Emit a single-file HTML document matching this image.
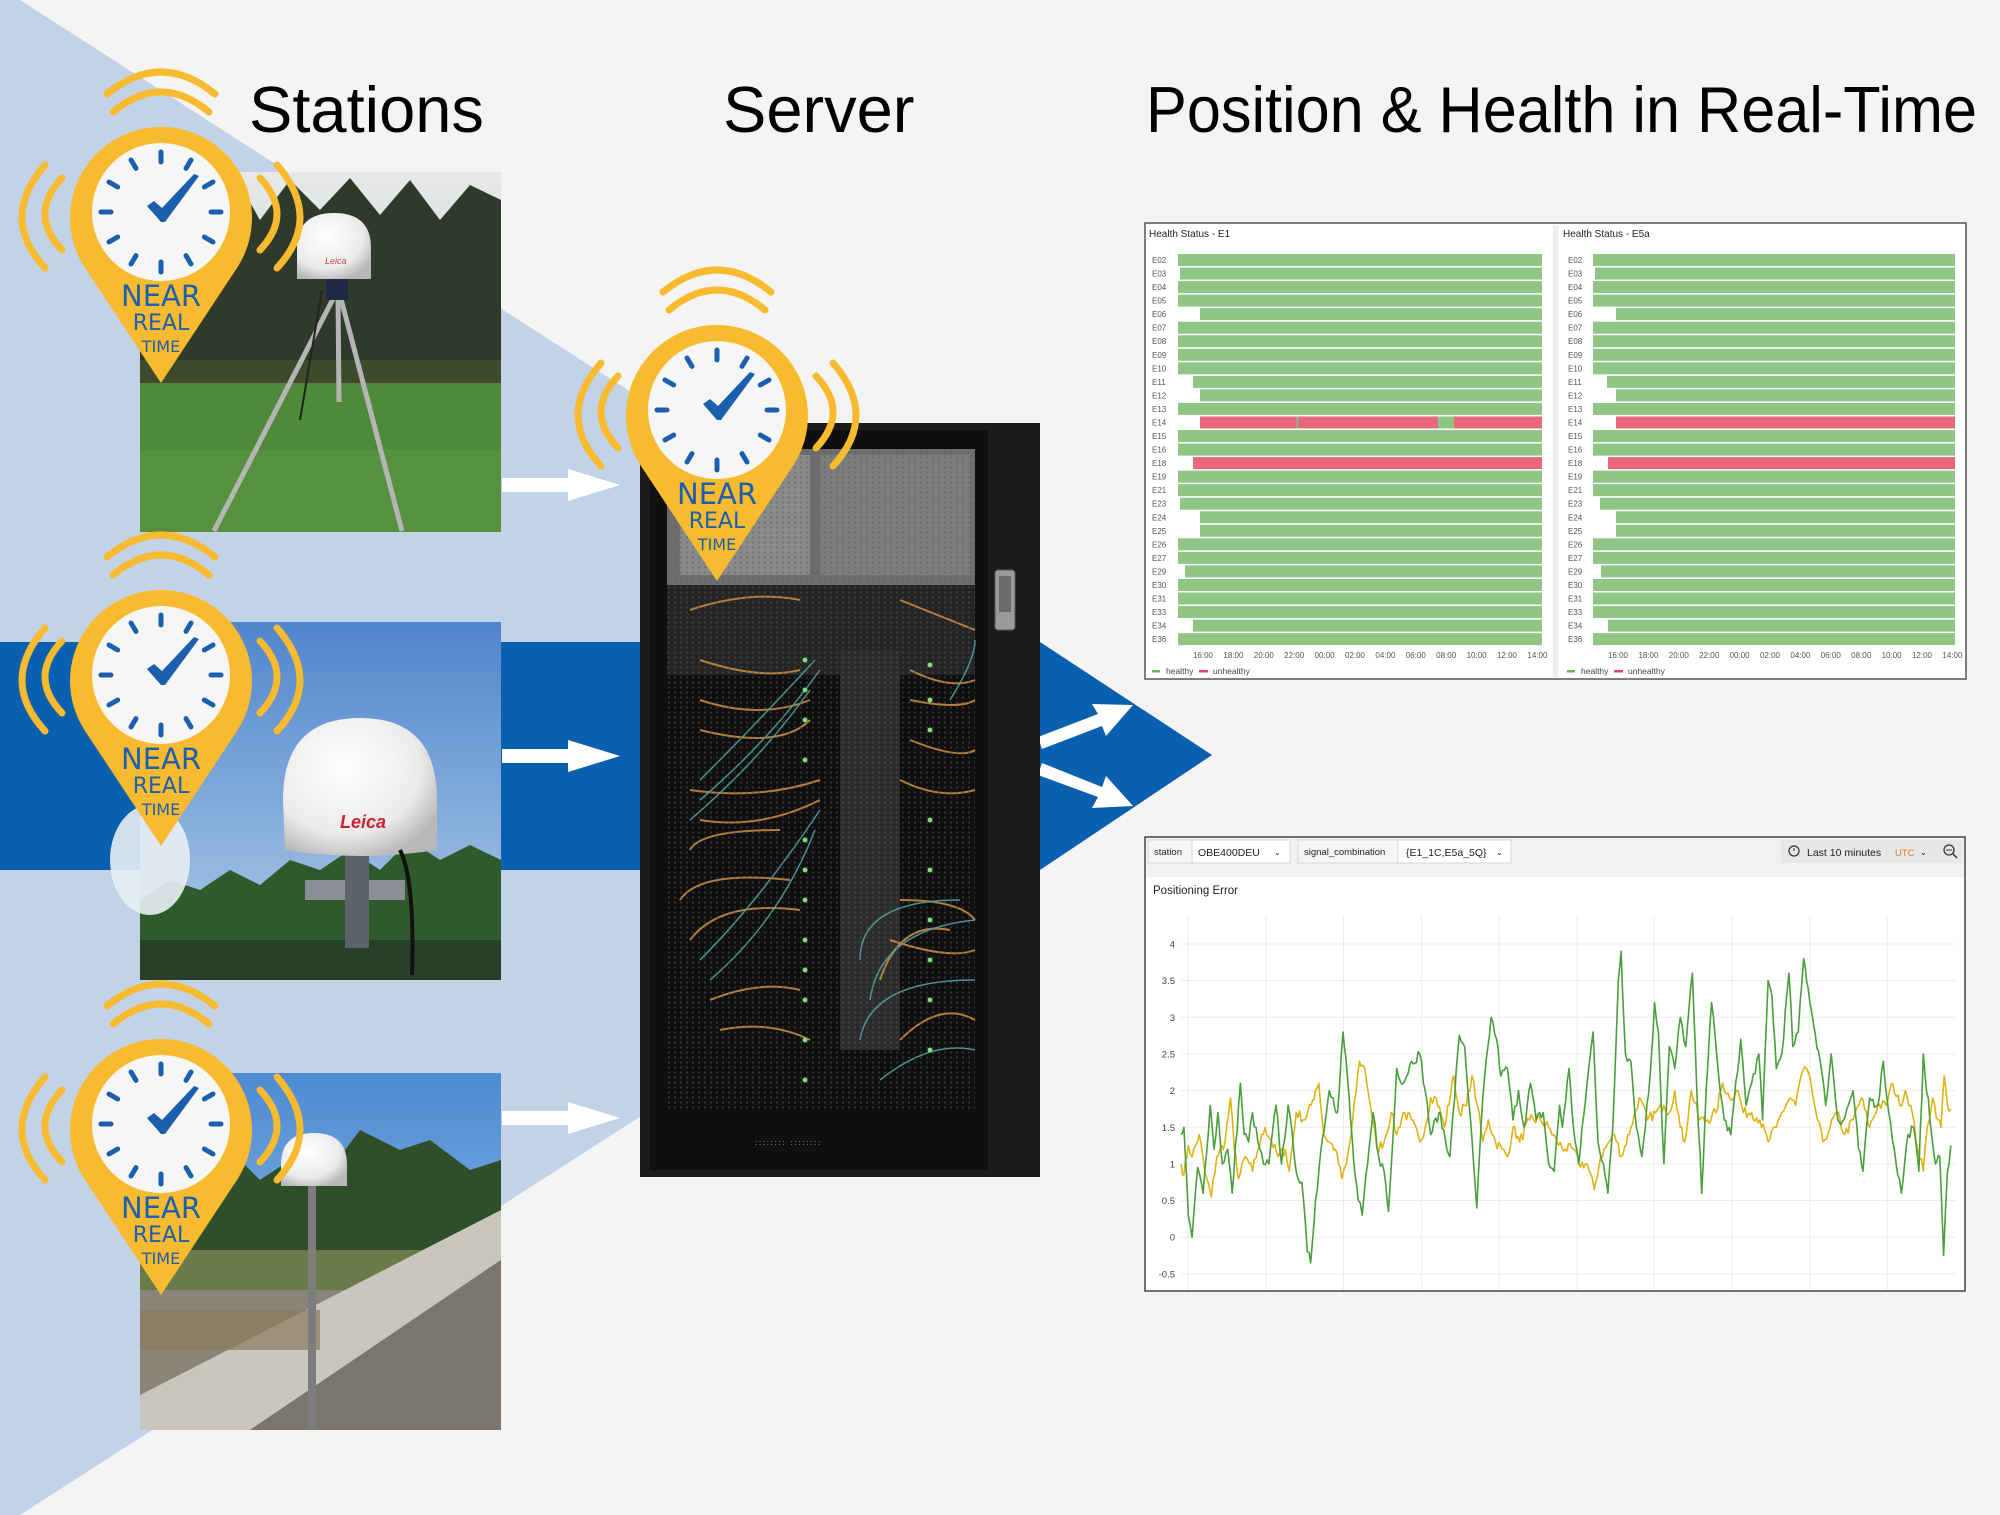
<!DOCTYPE html>
<html><head><meta charset="utf-8"><style>
html,body{margin:0;padding:0;background:#f4f4f4;}
svg{display:block;}
text{font-family:"Liberation Sans",sans-serif;}
</style></head><body>
<svg id="s" width="2000" height="1515" viewBox="0 0 2000 1515" xmlns="http://www.w3.org/2000/svg">
<defs>
<linearGradient id="sky2" x1="0" y1="0" x2="0" y2="1"><stop offset="0" stop-color="#4f86cc"/><stop offset="1" stop-color="#b3cde9"/></linearGradient>
<linearGradient id="sky3" x1="0" y1="0" x2="0" y2="1"><stop offset="0" stop-color="#4d8bd2"/><stop offset="1" stop-color="#a6c6ea"/></linearGradient>
<linearGradient id="sky1" x1="0" y1="0" x2="0" y2="1"><stop offset="0" stop-color="#e6e8ea"/><stop offset="1" stop-color="#c2c8c8"/></linearGradient>
<radialGradient id="dome" cx="0.4" cy="0.35" r="0.7"><stop offset="0" stop-color="#ffffff"/><stop offset="0.7" stop-color="#ebebeb"/><stop offset="1" stop-color="#b8b8b8"/></radialGradient>
<pattern id="mesh" width="6" height="5" patternUnits="userSpaceOnUse"><rect width="6" height="5" fill="none"/><circle cx="3" cy="2.5" r="1.1" fill="#5a5a5a" opacity="0.5"/></pattern>
<g id="pin">
  <path d="M 76.8 48.7 L 0 165 L -76.8 48.7 A 91 91 0 1 1 76.8 48.7 Z" fill="#f8bb2f"/>
  <circle cx="0" cy="-6" r="69" fill="#f6f6f6"/>
  <g stroke="#1b5fae" stroke-width="5" stroke-linecap="round">
   <line x1="0" y1="-66" x2="0" y2="-56"/><line x1="0" y1="54" x2="0" y2="44"/>
   <line x1="-60" y1="-6" x2="-50" y2="-6"/><line x1="60" y1="-6" x2="50" y2="-6"/>
   <line x1="30" y1="-58" x2="25" y2="-49.6"/><line x1="-30" y1="-58" x2="-25" y2="-49.6"/>
   <line x1="30" y1="46" x2="25" y2="37.6"/><line x1="-30" y1="46" x2="-25" y2="37.6"/>
   <line x1="52" y1="-36" x2="43.3" y2="-31"/><line x1="-52" y1="-36" x2="-43.3" y2="-31"/>
   <line x1="52" y1="24" x2="43.3" y2="19"/><line x1="-52" y1="24" x2="-43.3" y2="19"/>
  </g>
  <path d="M -14 -12 L 0 4 L 4 4 L 38 -42 L 33 -44 L 1 -10 L -7 -17 Z" fill="#1b5fae"/>
  <text x="0" y="88" font-size="29" fill="#1b5fae" text-anchor="middle" style="font-family:'DejaVu Sans',sans-serif">NEAR</text>
  <text x="0" y="112" font-size="22" fill="#1b5fae" text-anchor="middle" style="font-family:'DejaVu Sans',sans-serif">REAL</text>
  <text x="0" y="134" font-size="16" fill="#1b5fae" text-anchor="middle" style="font-family:'DejaVu Sans',sans-serif">TIME</text>
  <g fill="none" stroke="#f8bb2f" stroke-width="7" stroke-linecap="round">
   <path d="M -54 -124 Q 0 -168 54 -124"/><path d="M -48 -106 Q 0 -146 48 -106"/>
   <path d="M -116 -53 Q -162 0 -116 50"/><path d="M -99 -40 Q -133 -4 -99 32"/>
   <path d="M 116 -53 Q 162 0 116 50"/><path d="M 99 -40 Q 133 -4 99 32"/>
  </g>
</g>
</defs>
<rect width="2000" height="1515" fill="#f4f4f4"/>
<polygon points="0,0 20,0 1200,757 20,1515 0,1515" fill="#c2d3e7"/>
<polygon points="0,642 1040,642 1212,755 1040,870 0,870" fill="#0a5fae"/>

<text x="249" y="132" font-size="65" fill="#000">Stations</text>
<text x="723" y="132" font-size="65" fill="#000">Server</text>
<text x="1146" y="132" font-size="65" fill="#000" textLength="831" lengthAdjust="spacingAndGlyphs">Position &amp; Health in Real-Time</text>

<!-- photo 1 -->
<g>
 <rect x="140" y="172" width="361" height="360" fill="url(#sky1)"/>
 <path d="M140 260 L160 200 L175 240 L195 190 L215 230 L240 185 L260 220 L290 180 L320 210 L350 178 L380 215 L410 180 L440 220 L470 185 L501 200 L501 390 L140 390 Z" fill="#2f3a2a"/>
 <rect x="140" y="360" width="361" height="30" fill="#3d4a2c"/>
 <rect x="140" y="383" width="361" height="149" fill="#4f8a3a"/>
 <rect x="140" y="450" width="361" height="82" fill="#5a9640" opacity="0.7"/>
 <g stroke="#b5b5b5" stroke-width="5"><line x1="335" y1="295" x2="214" y2="531"/><line x1="340" y1="295" x2="402" y2="531"/><line x1="338" y1="295" x2="339" y2="402"/></g>
 <line x1="322" y1="290" x2="300" y2="420" stroke="#222" stroke-width="2"/>
 <rect x="326" y="278" width="22" height="22" fill="#1e2a45"/>
 <path d="M297 279 L297 248 Q297 213 334 213 Q371 213 371 248 L371 279 Z" fill="url(#dome)"/>
 <text x="325" y="264" font-size="9" fill="#c44" font-style="italic">Leica</text>
</g>
<!-- photo 2 -->
<g>
 <rect x="140" y="622" width="361" height="358" fill="url(#sky2)"/>
 <path d="M140 900 L170 880 L200 890 L230 870 L260 885 L290 860 L320 870 L350 850 L380 870 L410 840 L440 860 L470 845 L501 860 L501 980 L140 980 Z" fill="#2f5a2c"/>
 <rect x="140" y="940" width="361" height="40" fill="#27402a"/>
 <ellipse cx="150" cy="860" rx="40" ry="55" fill="#e8eef4" opacity="0.9"/>
 <rect x="305" y="880" width="100" height="20" fill="#8a8f96"/>
 <rect x="345" y="848" width="24" height="100" fill="#5d636b"/>
 <path d="M285 850 L283 800 Q283 718 360 718 Q437 718 437 800 L437 850 Q360 862 285 850 Z" fill="url(#dome)"/>
 <text x="340" y="828" font-size="18" fill="#c23" font-style="italic" font-weight="bold">Leica</text>
 <path d="M400 850 Q415 880 412 975" stroke="#111" stroke-width="4" fill="none"/>
</g>
<!-- photo 3 -->
<g>
 <rect x="140" y="1073" width="361" height="357" fill="url(#sky3)"/>
 <path d="M140 1200 L170 1170 L200 1190 L230 1150 L260 1180 L290 1160 L330 1170 L360 1130 L400 1150 L430 1140 L470 1170 L501 1160 L501 1290 L140 1290 Z" fill="#2e4f2a"/>
 <rect x="140" y="1250" width="361" height="50" fill="#6b7a4a"/>
 <rect x="140" y="1290" width="361" height="140" fill="#8a8578"/>
 <polygon points="140,1430 140,1395 501,1210 501,1260 250,1430" fill="#c9c6bd"/>
 <polygon points="250,1430 501,1260 501,1430" fill="#7a766e"/>
 <rect x="140" y="1310" width="180" height="40" fill="#8b7a5c" opacity="0.7"/>
 <rect x="308" y="1186" width="8" height="244" fill="#7d7d7d"/>
 <path d="M281 1186 L281 1165 Q281 1133 314 1133 Q347 1133 347 1165 L347 1186 Z" fill="url(#dome)"/>
</g>

<g fill="#fff">
 <polygon points="502,478 568,478 568,469 620,485 568,501 568,492 502,492"/>
 <polygon points="502,749 568,749 568,740 620,756 568,772 568,763 502,763"/>
 <polygon points="502,1111 568,1111 568,1102 620,1118 568,1134 568,1125 502,1125"/>
 <polygon points="1038,737 1098,714 1092,704 1133,705 1106,736 1102,726 1042,749"/>
 <polygon points="1042,763 1102,787 1106,776 1133,806 1092,808 1098,797 1038,775"/>
</g>

<g>
 <rect x="640" y="423" width="400" height="754" fill="#1d1b1a"/>
 <rect x="650" y="430" width="338" height="740" fill="#0f0f0f"/>
 <rect x="667" y="449" width="308" height="136" fill="#6d6d6d"/>
 <rect x="680" y="455" width="130" height="120" fill="#8a8a8a"/>
 <rect x="820" y="455" width="150" height="120" fill="#7c7c7c"/>
 <rect x="667" y="585" width="308" height="90" fill="#242424"/>
 <rect x="840" y="650" width="60" height="400" fill="#2c2c2c"/>
 <g fill="none" stroke="#c88b3f" stroke-width="2" opacity="0.9">
  <path d="M690 610 Q750 590 800 600"/><path d="M900 600 Q950 620 975 630"/>
  <path d="M700 660 Q760 680 800 670"/><path d="M700 700 Q760 720 810 700"/><path d="M700 730 Q780 750 810 720"/>
  <path d="M690 790 Q760 800 820 780"/><path d="M700 820 Q760 830 820 800"/>
  <path d="M690 850 Q700 830 780 830"/><path d="M680 900 Q700 870 790 880"/><path d="M690 940 Q720 900 800 910"/>
  <path d="M710 1000 Q760 980 800 990"/><path d="M720 1030 Q770 1020 810 1040"/>
  <path d="M910 670 Q950 690 975 680"/><path d="M910 700 Q960 710 975 700"/><path d="M910 740 Q960 760 975 750"/>
  <path d="M900 780 Q940 800 975 790"/><path d="M900 900 Q960 900 975 920"/><path d="M890 940 Q950 960 975 950"/>
  <path d="M880 980 Q900 920 950 930"/><path d="M900 1040 Q940 1000 975 1020"/>
 </g>
 <g fill="none" stroke="#4fa4a0" stroke-width="1.5" opacity="0.9">
  <path d="M700 780 Q760 720 815 660"/><path d="M700 800 Q770 740 820 670"/><path d="M690 820 Q760 760 810 690"/>
  <path d="M700 960 Q760 900 820 810"/><path d="M710 980 Q780 920 815 830"/>
  <path d="M860 960 Q860 900 960 900"/><path d="M870 1000 Q880 930 975 920"/><path d="M860 1040 Q870 980 975 980"/>
  <path d="M950 700 Q975 660 975 640"/><path d="M880 1080 Q930 1040 975 1050"/>
 </g>
 <g fill="#7de07a">
  <circle cx="805" cy="660" r="2.5"/><circle cx="805" cy="690" r="2.5"/><circle cx="805" cy="720" r="2.5"/><circle cx="805" cy="760" r="2.5"/>
  <circle cx="805" cy="840" r="2.5"/><circle cx="805" cy="870" r="2.5"/><circle cx="805" cy="900" r="2.5"/><circle cx="805" cy="940" r="2.5"/>
  <circle cx="805" cy="970" r="2.5"/><circle cx="805" cy="1000" r="2.5"/><circle cx="805" cy="1040" r="2.5"/><circle cx="805" cy="1080" r="2.5"/>
  <circle cx="930" cy="665" r="2.5"/><circle cx="930" cy="700" r="2.5"/><circle cx="930" cy="730" r="2.5"/><circle cx="930" cy="820" r="2.5"/>
  <circle cx="930" cy="870" r="2.5"/><circle cx="930" cy="920" r="2.5"/><circle cx="930" cy="960" r="2.5"/><circle cx="930" cy="1000" r="2.5"/><circle cx="930" cy="1050" r="2.5"/>
 </g>
 <rect x="667" y="449" width="308" height="660" fill="url(#mesh)"/>
 <rect x="995" y="570" width="20" height="60" rx="3" fill="#9a9a9a" stroke="#555"/>
 <rect x="999" y="576" width="12" height="36" fill="#6b6b6b"/>
 <text x="755" y="1145" font-size="7" fill="#d8d860" letter-spacing="2">:::::::: ::::::::</text>
</g>

<use href="#pin" x="161" y="218"/>
<use href="#pin" x="161" y="681"/>
<use href="#pin" x="161" y="1130"/>
<use href="#pin" x="717" y="416"/>

<rect x="1145" y="223" width="821" height="456" fill="#fff" stroke="#555" stroke-width="1.5"/>
<rect x="1553" y="225" width="5" height="452" fill="#eeeeee"/>
<text x="1149" y="237" font-size="10" fill="#222">Health Status - E1</text>
<text x="1563" y="237" font-size="10" fill="#222">Health Status - E5a</text>
<g id="bars"></g>
<rect x="1152" y="670" width="8" height="2.5" fill="#6cb35a"/><text x="1166" y="674" font-size="8.5" fill="#444">healthy</text>
<rect x="1199" y="670" width="9" height="2.5" fill="#e0455c"/><text x="1213" y="674" font-size="8.5" fill="#444">unhealthy</text>
<rect x="1567" y="670" width="8" height="2.5" fill="#6cb35a"/><text x="1581" y="674" font-size="8.5" fill="#444">healthy</text>
<rect x="1614" y="670" width="9" height="2.5" fill="#e0455c"/><text x="1628" y="674" font-size="8.5" fill="#444">unhealthy</text>

<rect x="1145" y="837" width="820" height="454" fill="#fff" stroke="#444" stroke-width="1.5"/>
<rect x="1146" y="838" width="818" height="39" fill="#f1f1f1"/>
<g font-size="10.5" fill="#222">
 <rect x="1148" y="840" width="44" height="23" fill="#f4f5f5" stroke="#d6d6d6"/><text x="1154" y="855" font-size="9.5">station</text>
 <rect x="1192" y="840" width="98" height="23" fill="#fff" stroke="#d6d6d6"/><text x="1198" y="856">OBE400DEU</text><text x="1274" y="855" font-size="8">⌄</text>
 <rect x="1298" y="840" width="100" height="23" fill="#f4f5f5" stroke="#d6d6d6"/><text x="1304" y="855" font-size="9.5">signal_combination</text>
 <rect x="1398" y="840" width="113" height="23" fill="#fff" stroke="#d6d6d6"/><text x="1406" y="856">{E1_1C,E5a_5Q}</text><text x="1496" y="855" font-size="8">⌄</text>
 <rect x="1781" y="840" width="156" height="23" fill="#e7e7e7"/>
 <circle cx="1794" cy="851" r="5" fill="none" stroke="#333" stroke-width="1.2"/><line x1="1794" y1="851" x2="1794" y2="848" stroke="#333"/>
 <text x="1807" y="856">Last 10 minutes</text><text x="1895" y="856" fill="#e07a1f" font-size="9.5">UTC</text><text x="1920" y="855" font-size="8">⌄</text>
 <rect x="1937" y="840" width="26" height="23" fill="#e7e7e7"/>
 <circle cx="1949" cy="850" r="5" fill="none" stroke="#333" stroke-width="1.3"/><line x1="1953" y1="854" x2="1957" y2="858" stroke="#333" stroke-width="1.5"/><line x1="1946" y1="850" x2="1952" y2="850" stroke="#333"/>
</g>
<text x="1153" y="894" font-size="11.5" fill="#222">Positioning Error</text>
<g id="chart"></g>
</svg>
<script>
(function(){
var NS="http://www.w3.org/2000/svg";
function el(p,tag,a,txt){var e=document.createElementNS(NS,tag);for(var k in a)e.setAttribute(k,a[k]);if(txt!=null)e.textContent=txt;p.appendChild(e);return e;}
var bars=document.getElementById('bars');
var labels=["E02","E03","E04","E05","E06","E07","E08","E09","E10","E11","E12","E13","E14","E15","E16","E18","E19","E21","E23","E24","E25","E26","E27","E29","E30","E31","E33","E34","E36"];
var offL={"E03":2,"E06":22,"E11":15,"E12":22,"E14":22,"E18":15,"E23":2,"E24":22,"E25":22,"E29":7,"E34":15};
var offR={"E06":23,"E11":14,"E12":23,"E14":23,"E18":15,"E23":7,"E24":23,"E25":23,"E29":8,"E34":15,"E03":2};
var G="#8fc684",R="#e8677a";
function panel(x0,x1,labx,off,isLeft){
 for(var i=0;i<labels.length;i++){
  var y=260+i*13.54, L=labels[i];
  el(bars,'text',{x:labx,y:y+3,'font-size':'8','fill':'#555'},L);
  var s=x0+(off[L]||0);
  if(L==="E14"){
   if(isLeft){
    el(bars,'rect',{x:s,y:y-6,width:1296-s,height:12,fill:R});
    el(bars,'rect',{x:1296,y:y-6,width:3,height:12,fill:"#a9a18a"});
    el(bars,'rect',{x:1299,y:y-6,width:1438-1299,height:12,fill:R});
    el(bars,'rect',{x:1438,y:y-6,width:16,height:12,fill:G});
    el(bars,'rect',{x:1454,y:y-6,width:x1-1454,height:12,fill:R});
   } else el(bars,'rect',{x:s,y:y-6,width:x1-s,height:12,fill:R});
  } else if(L==="E18"){
   el(bars,'rect',{x:s,y:y-6,width:x1-s,height:12,fill:R});
  } else el(bars,'rect',{x:s,y:y-6,width:x1-s,height:12,fill:G});
 }
 var t=["16:00","18:00","20:00","22:00","00:00","02:00","04:00","06:00","08:00","10:00","12:00","14:00"];
 for(var j=0;j<12;j++) el(bars,'text',{x:x0+25+j*30.4,y:658,'font-size':'8','fill':'#555','text-anchor':'middle'},t[j]);
}
panel(1178,1542,1152,offL,true);
panel(1593,1955,1568,offR,false);

var ch=document.getElementById('chart');
function Y(v){return 944+(4-v)*73.3;}
var vals=["4","3.5","3","2.5","2","1.5","1","0.5","0","-0.5"];
for(var i=0;i<vals.length;i++){var v=parseFloat(vals[i]);
 el(ch,'line',{x1:1181,x2:1956,y1:Y(v),y2:Y(v),stroke:'#ececec','stroke-width':1});
 el(ch,'text',{x:1175,y:Y(v)+3.5,'font-size':'9.5','fill':'#444','text-anchor':'end'},vals[i]);}
[87,230,371,513,655,797,937,1079,1221,1362].forEach(function(z){var x=z/1.823+1140;el(ch,'line',{x1:x,x2:x,y1:915,y2:1290,stroke:'#ececec','stroke-width':1});});
var green=[75,1.4,80,1.5,88,0.3,95,0.0,105,0.95,115,0.6,128,1.8,135,1.2,142,1.7,150,1.0,160,1.2,168,0.6,183,2.1,190,1.4,198,1.3,205,1.7,215,1.3,225,1.0,235,1.0,248,1.8,258,1.0,270,1.8,280,1.2,288,0.8,295,0.75,305,-0.2,311,-0.35,320,0.5,330,1.2,345,2.0,352,1.9,360,1.7,370,2.8,378,2.2,390,1.0,398,0.5,405,0.3,415,1.0,425,1.7,435,1.1,445,0.9,453,0.35,460,1.2,468,2.3,480,2.1,495,2.4,510,2.5,520,2.0,530,1.4,545,1.7,565,1.1,582,2.75,592,2.6,600,1.8,614,0.4,625,1.9,640,3.0,650,2.7,658,2.2,670,2.3,680,1.6,690,2.0,700,1.5,712,2.1,722,1.6,735,1.7,745,1.0,755,0.9,765,1.8,770,1.5,782,2.3,790,1.5,800,1.0,815,2.1,826,2.8,835,1.3,845,1.0,853,0.6,862,1.5,872,3.5,877,3.9,885,2.5,895,2.4,905,1.5,915,1.1,930,2.2,938,3.2,945,2.8,955,1.0,965,2.6,975,2.3,985,3.0,995,2.6,1007,3.6,1015,2.0,1024,0.6,1032,2.0,1042,3.2,1055,2.2,1065,1.6,1077,1.4,1095,2.7,1105,1.8,1115,2.1,1128,2.5,1135,1.6,1145,3.5,1152,3.3,1160,2.3,1170,2.5,1183,3.6,1190,2.6,1200,2.8,1210,3.8,1218,3.4,1228,2.9,1240,2.4,1250,1.8,1260,2.5,1272,1.6,1283,1.6,1300,2.0,1310,1.2,1318,0.9,1330,1.9,1345,1.8,1355,2.4,1365,1.7,1375,1.2,1388,0.6,1400,1.4,1410,1.5,1420,0.9,1428,2.5,1440,1.6,1450,1.0,1458,1.1,1465,-0.25,1472,0.9,1478,1.25];
var yellow=[75,1.0,80,0.85,88,1.25,95,1.1,108,1.4,118,0.9,130,0.55,140,1.1,155,1.3,165,1.9,172,1.2,180,0.8,192,1.1,205,0.9,215,1.2,228,1.5,240,1.3,252,1.1,265,1.2,272,0.9,285,1.7,300,1.6,312,1.8,320,2.0,326,2.1,335,1.4,345,1.3,356,1.2,368,0.8,376,1.0,385,1.4,400,2.4,410,2.3,420,1.8,432,1.2,445,1.3,458,1.7,468,1.4,480,1.7,495,1.6,510,1.3,520,1.5,530,1.9,540,1.9,555,1.5,572,2.2,582,1.7,595,1.8,605,2.2,615,1.8,625,1.3,635,1.6,648,1.3,660,1.2,670,1.1,680,1.5,692,1.3,710,1.6,730,1.6,745,1.5,760,1.3,775,1.2,790,1.2,800,1.0,815,1.0,828,0.65,840,1.1,855,1.3,865,1.4,878,1.1,895,1.5,910,1.9,925,1.6,940,1.7,955,1.8,965,1.7,975,2.0,985,1.5,993,1.3,1005,2.0,1020,1.6,1035,1.6,1050,1.7,1062,2.1,1075,1.9,1090,2.0,1100,1.7,1115,1.7,1130,1.6,1145,1.3,1160,1.5,1170,1.7,1185,1.9,1195,1.8,1205,2.2,1215,2.3,1225,2.0,1235,1.6,1245,1.3,1258,1.5,1270,1.7,1285,1.4,1300,1.6,1315,1.9,1330,1.5,1345,1.8,1360,1.8,1372,2.1,1385,1.8,1395,2.0,1405,1.8,1418,1.2,1428,0.9,1435,1.5,1445,1.9,1455,1.6,1460,1.5,1466,2.2,1472,1.8,1478,1.75];
var seed=7;function rnd(){seed=(seed*16807)%2147483647;return seed/2147483647-0.5;}
function line(arr,col,amp){var pts=[];for(var i=0;i<arr.length-2;i+=2){var x0=arr[i],v0=arr[i+1],x1=arr[i+2],v1=arr[i+3];var n=Math.max(1,Math.round((x1-x0)/3));for(var k=0;k<n;k++){var t=k/n;var v=v0+(v1-v0)*t+(k?rnd()*amp:0);pts.push((( x0+(x1-x0)*t)/1.823+1140).toFixed(1)+","+Y(v).toFixed(1));}}
 pts.push((arr[arr.length-2]/1.823+1140).toFixed(1)+","+Y(arr[arr.length-1]).toFixed(1));
 el(ch,'polyline',{points:pts.join(" "),fill:'none',stroke:col,'stroke-width':1.6,'stroke-linejoin':'round'});}
line(yellow,'#e0b416',0.15);
line(green,'#4a9e3c',0.15);
})();
</script>
</body></html>
